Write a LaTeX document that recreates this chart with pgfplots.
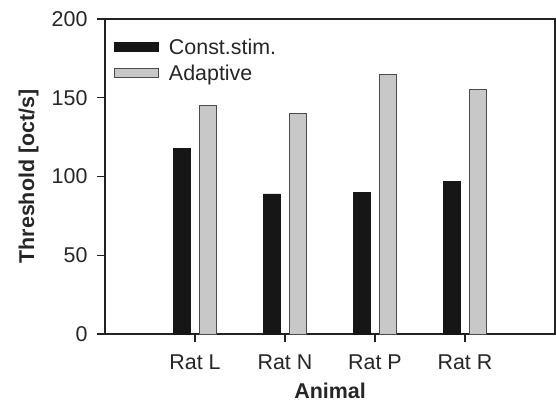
\documentclass[border=0pt]{standalone}
\usepackage{fontspec}
\setmainfont{Liberation Sans}
\usepackage{pgfplots}
\pgfplotsset{compat=1.18}
\definecolor{barblack}{HTML}{161616}
\definecolor{bargrey}{HTML}{C8C8C8}
\definecolor{edgegrey}{HTML}{4A4A4A}
\definecolor{axcol}{HTML}{222222}
\begin{document}
\begin{tikzpicture}
\begin{axis}[
  at={(0,0)}, anchor=south west,
  scale only axis, width=450bp, height=315bp,
  xmin=0, xmax=5, ymin=0, ymax=200,
  xtick={1,2,3,4}, xticklabels={Rat L,Rat N,Rat P,Rat R},
  ytick={0,50,100,150,200},
  tick align=outside, xtick pos=bottom, ytick pos=left,
  major tick length=8bp,
  every tick/.style={axcol, line width=1.2bp},
  axis line style={axcol, line width=1.3bp},
  /pgf/number format/assume math mode=true,
  tick label style={font=\fontsize{21.5}{24}\selectfont, text=black!85},
  xticklabel style={yshift=-9bp},
  yticklabel style={xshift=-6bp},
  xlabel={Animal}, ylabel={Threshold [oct/s]},
  label style={font=\bfseries\fontsize{21.5}{24}\selectfont, text=black!85},
  xlabel style={at={(axis description cs:0.5,-0.181)}, anchor=center, inner sep=0pt},
  ylabel style={at={(axis description cs:-0.170,0.5)}, anchor=center, rotate=0},
  ybar, bar width=17bp,
  legend cell align=left,
  legend style={draw=none, fill=none, inner sep=0pt, at={(axis description cs:0.02,0.945)}, anchor=north west,
    font=\fontsize{21.5}{24}\selectfont, row sep=5bp, text=black!85},
  legend image code/.code={\draw[#1] (0bp,-4.5bp) rectangle (44bp,4.5bp); \path (52bp,0bp);},
]
\addplot[fill=barblack, draw=barblack, line width=0.5bp, bar shift=-13bp]
  coordinates {(1,118) (2,89) (3,90) (4,97)};
\addlegendentry{Const.stim.}
\addplot[fill=bargrey, draw=edgegrey, line width=0.8bp, bar shift=13bp]
  coordinates {(1,145) (2,140) (3,165) (4,155)};
\addlegendentry{Adaptive}
\end{axis}
\pgfresetboundingbox
\path[use as bounding box] (-105bp,-68bp) rectangle (451bp,334bp);
\end{tikzpicture}
\end{document}
